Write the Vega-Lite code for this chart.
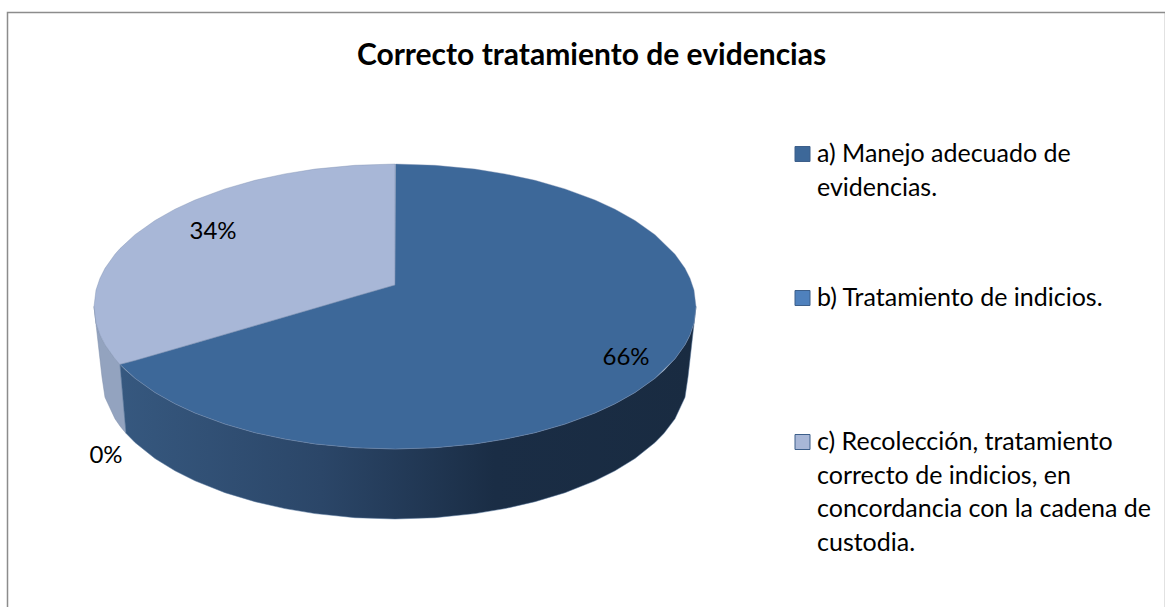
{"$schema":"https://vega.github.io/schema/vega-lite/v6.json","width":1158,"height":600,"padding":{"left":7.5,"top":12.5,"right":0,"bottom":0},"autosize":"none","background":"white","view":{"stroke":"#8c8c8c","strokeWidth":1.5,"fill":"white"},
"config":{"style":{"guide-label":{"lineHeight":33.5}}},
"title":{"text":"Correcto tratamiento de evidencias","font":"Lato","fontSize":30,"fontWeight":"bold","color":"#000000","anchor":"middle","baseline":"middle","offset":0,"dx":5,"dy":73},
"datasets":{
"side_c":[{"u":-301,"v":-21.5,"v2":-21.5},{"u":-299,"v":-37.9,"v2":-39.1},{"u":-295,"v":-49.8,"v2":-74.4},{"u":-293,"v":-54.1,"v2":-92},{"u":-290,"v":-59.7,"v2":-112.3},{"u":-280,"v":-73.8,"v2":-133.8},{"u":-275,"v":-79.4,"v2":-141},{"u":-272,"v":-114,"v2":-144.8},{"u":-269,"v":-148.3,"v2":-148.3}],
"side_a":[{"u":-275,"v":-79.4,"v2":-79.4},{"u":-272,"v":-82.5,"v2":-114},{"u":-269,"v":-85.4,"v2":-148.3},{"u":-260,"v":-93.3,"v2":-157.5},{"u":-240,"v":-107.5,"v2":-173.5},{"u":-220,"v":-118.8,"v2":-185.8},{"u":-200,"v":-128,"v2":-195.8},{"u":-170,"v":-139.1,"v2":-207.7},{"u":-140,"v":-147.7,"v2":-216.7},{"u":-110,"v":-154.1,"v2":-223.6},{"u":-80,"v":-158.9,"v2":-228.6},{"u":-40,"v":-162.7,"v2":-232.7},{"u":0,"v":-164,"v2":-234},{"u":40,"v":-162.7,"v2":-232.7},{"u":80,"v":-158.9,"v2":-228.6},{"u":110,"v":-154.1,"v2":-223.6},{"u":140,"v":-147.7,"v2":-216.7},{"u":170,"v":-139.1,"v2":-207.7},{"u":200,"v":-128,"v2":-195.8},{"u":220,"v":-118.8,"v2":-185.8},{"u":240,"v":-107.5,"v2":-173.5},{"u":260,"v":-93.3,"v2":-157.5},{"u":269,"v":-85.4,"v2":-148.3},{"u":280,"v":-73.8,"v2":-133.8},{"u":290,"v":-59.7,"v2":-112.3},{"u":293,"v":-54.1,"v2":-92},{"u":295,"v":-49.8,"v2":-74.4},{"u":299,"v":-37.9,"v2":-39.1},{"u":301,"v":-21.5,"v2":-21.5}],
"top":[
{"parte":"c) Recolección, tratamiento correcto de indicios, en concordancia con la cadena de custodia.","u":-301,"v":-21.5,"v2":-21.5},{"parte":"c) Recolección, tratamiento correcto de indicios, en concordancia con la cadena de custodia.","u":-299,"v":-5.1,"v2":-37.9},{"parte":"c) Recolección, tratamiento correcto de indicios, en concordancia con la cadena de custodia.","u":-295,"v":6.8,"v2":-49.8},{"parte":"c) Recolección, tratamiento correcto de indicios, en concordancia con la cadena de custodia.","u":-290,"v":16.7,"v2":-59.7},{"parte":"c) Recolección, tratamiento correcto de indicios, en concordancia con la cadena de custodia.","u":-280,"v":30.8,"v2":-73.8},{"parte":"c) Recolección, tratamiento correcto de indicios, en concordancia con la cadena de custodia.","u":-275,"v":36.4,"v2":-79.4},{"parte":"c) Recolección, tratamiento correcto de indicios, en concordancia con la cadena de custodia.","u":-260,"v":50.3,"v2":-75.6},{"parte":"c) Recolección, tratamiento correcto de indicios, en concordancia con la cadena de custodia.","u":-240,"v":64.5,"v2":-69.8},{"parte":"c) Recolección, tratamiento correcto de indicios, en concordancia con la cadena de custodia.","u":-220,"v":75.8,"v2":-64},{"parte":"c) Recolección, tratamiento correcto de indicios, en concordancia con la cadena de custodia.","u":-200,"v":85,"v2":-58.2},{"parte":"c) Recolección, tratamiento correcto de indicios, en concordancia con la cadena de custodia.","u":-170,"v":96.1,"v2":-49.5},{"parte":"c) Recolección, tratamiento correcto de indicios, en concordancia con la cadena de custodia.","u":-140,"v":104.7,"v2":-40.7},{"parte":"c) Recolección, tratamiento correcto de indicios, en concordancia con la cadena de custodia.","u":-110,"v":111.1,"v2":-32},{"parte":"c) Recolección, tratamiento correcto de indicios, en concordancia con la cadena de custodia.","u":-80,"v":115.9,"v2":-23.3},{"parte":"c) Recolección, tratamiento correcto de indicios, en concordancia con la cadena de custodia.","u":-40,"v":119.7,"v2":-11.6},{"parte":"c) Recolección, tratamiento correcto de indicios, en concordancia con la cadena de custodia.","u":0,"v":121,"v2":0},
{"parte":"a) Manejo adecuado de evidencias.","u":-275,"v":-79.4,"v2":-79.4},{"parte":"a) Manejo adecuado de evidencias.","u":-260,"v":-75.6,"v2":-93.3},{"parte":"a) Manejo adecuado de evidencias.","u":-240,"v":-69.8,"v2":-107.5},{"parte":"a) Manejo adecuado de evidencias.","u":-220,"v":-64,"v2":-118.8},{"parte":"a) Manejo adecuado de evidencias.","u":-200,"v":-58.2,"v2":-128},{"parte":"a) Manejo adecuado de evidencias.","u":-170,"v":-49.5,"v2":-139.1},{"parte":"a) Manejo adecuado de evidencias.","u":-140,"v":-40.7,"v2":-147.7},{"parte":"a) Manejo adecuado de evidencias.","u":-110,"v":-32,"v2":-154.1},{"parte":"a) Manejo adecuado de evidencias.","u":-80,"v":-23.3,"v2":-158.9},{"parte":"a) Manejo adecuado de evidencias.","u":-40,"v":-11.6,"v2":-162.7},{"parte":"a) Manejo adecuado de evidencias.","u":0,"v":0,"v2":-164},{"parte":"a) Manejo adecuado de evidencias.","u":0.5,"v":121,"v2":-164},{"parte":"a) Manejo adecuado de evidencias.","u":40,"v":119.7,"v2":-162.7},{"parte":"a) Manejo adecuado de evidencias.","u":80,"v":115.9,"v2":-158.9},{"parte":"a) Manejo adecuado de evidencias.","u":110,"v":111.1,"v2":-154.1},{"parte":"a) Manejo adecuado de evidencias.","u":140,"v":104.7,"v2":-147.7},{"parte":"a) Manejo adecuado de evidencias.","u":170,"v":96.1,"v2":-139.1},{"parte":"a) Manejo adecuado de evidencias.","u":200,"v":85,"v2":-128},{"parte":"a) Manejo adecuado de evidencias.","u":220,"v":75.8,"v2":-118.8},{"parte":"a) Manejo adecuado de evidencias.","u":240,"v":64.5,"v2":-107.5},{"parte":"a) Manejo adecuado de evidencias.","u":260,"v":50.3,"v2":-93.3},{"parte":"a) Manejo adecuado de evidencias.","u":280,"v":30.8,"v2":-73.8},{"parte":"a) Manejo adecuado de evidencias.","u":290,"v":16.7,"v2":-59.7},{"parte":"a) Manejo adecuado de evidencias.","u":295,"v":6.8,"v2":-49.8},{"parte":"a) Manejo adecuado de evidencias.","u":299,"v":-5.1,"v2":-37.9},{"parte":"a) Manejo adecuado de evidencias.","u":301,"v":-21.5,"v2":-21.5}
],
"etiquetas":[{"porcentaje":"66%","u":231,"v":-73},{"porcentaje":"34%","u":-182,"v":53},{"porcentaje":"0%","u":-289,"v":-171}]
},
"encoding":{
"x":{"field":"u","type":"quantitative","scale":{"domain":[-387.5,770.5],"nice":false,"zero":false},"axis":null},
"y":{"field":"v","type":"quantitative","scale":{"domain":[-327.5,272.5],"nice":false,"zero":false},"axis":null}
},
"layer":[
{"data":{"name":"side_c"},"mark":{"type":"area","color":"#93a3bf","stroke":"#7e8fab","strokeWidth":0.5},"encoding":{"y2":{"field":"v2"}}},
{"data":{"name":"side_a"},"mark":{"type":"area","stroke":"#55749a","strokeWidth":0.5,"color":{"gradient":"linear","x1":0,"x2":1,"y1":0,"y2":0,"stops":[{"offset":0,"color":"#36587f"},{"offset":0.35,"color":"#2b4668"},{"offset":0.65,"color":"#1a2d45"},{"offset":1,"color":"#192b41"}]}},"encoding":{"y2":{"field":"v2"}}},
{"data":{"name":"top"},"mark":{"type":"area","stroke":"#7d8fb0","strokeWidth":0.4},"encoding":{"y2":{"field":"v2"},"color":{"field":"parte","type":"nominal","scale":{"domain":["a) Manejo adecuado de evidencias.","b) Tratamiento de indicios.","c) Recolección, tratamiento correcto de indicios, en concordancia con la cadena de custodia."],"range":["#3d6899","#4f81bd","#a8b7d7"]},"legend":{"title":null,"orient":"none","legendX":782.5,"legendY":129,"symbolType":"square","symbolSize":225,"symbolStrokeWidth":1,"symbolStrokeColor":"#3d5f8a","labelFont":"Lato","labelFontSize":25,"labelColor":"#000000","labelLimit":500,"labelOffset":2,"rowPadding":85,"labelBaseline":"middle","labelExpr":"datum.label == 'a) Manejo adecuado de evidencias.' ? ['a) Manejo adecuado de','evidencias.'] : datum.label == 'b) Tratamiento de indicios.' ? ['b) Tratamiento de indicios.',''] : ['c) Recolección, tratamiento','correcto de indicios, en','concordancia con la cadena de','custodia.']"}}}},
{"data":{"name":"etiquetas"},"mark":{"type":"text","font":"Lato","fontSize":24,"color":"#000000","baseline":"middle"},"encoding":{"text":{"field":"porcentaje"}}}
]}
